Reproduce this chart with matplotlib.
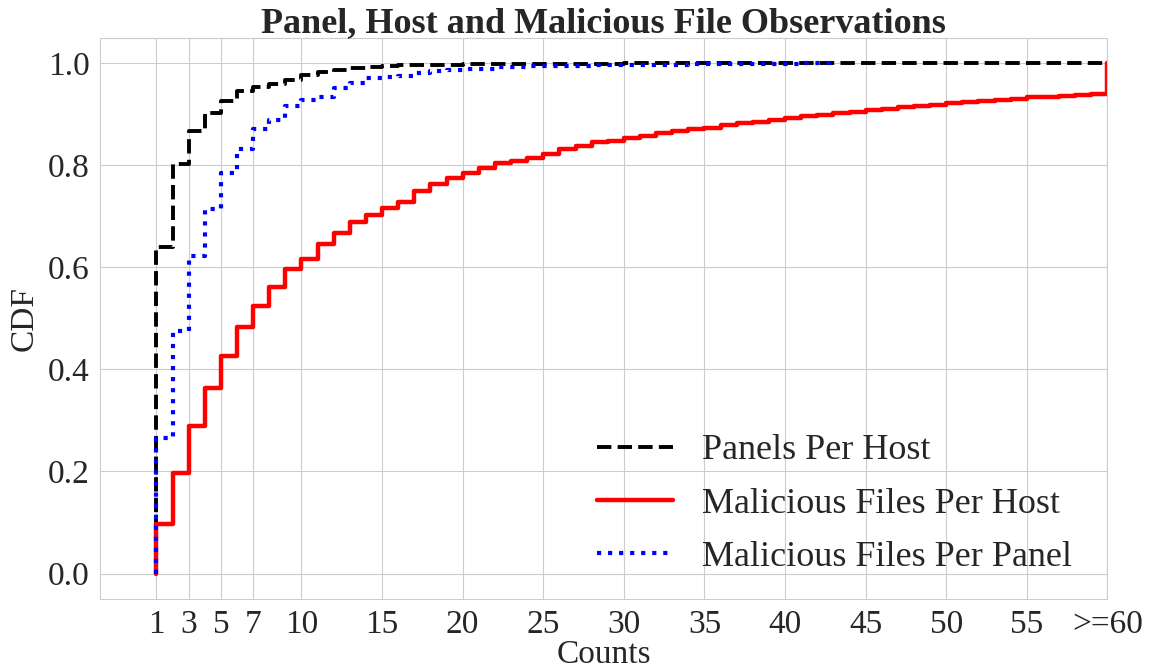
import matplotlib
matplotlib.use("Agg")
import matplotlib.pyplot as plt
import seaborn as sns

# counts 1..60 (60 means ">=60")
panels_counts = list(range(1, 61))
panels_per_host = [
    0.641, 0.803, 0.867, 0.903, 0.926, 0.945, 0.953, 0.960, 0.968, 0.978,
    0.984, 0.988, 0.991, 0.993, 0.995, 0.996, 0.996, 0.997, 0.997, 0.998,
    0.998, 0.998, 0.998, 0.998, 0.999, 0.999, 0.999, 0.999, 0.999, 1.0,
    1.0, 1.0, 1.0, 1.0, 1.0, 1.0, 1.0, 1.0, 1.0, 1.0,
    1.0, 1.0, 1.0, 1.0, 1.0, 1.0, 1.0, 1.0, 1.0, 1.0,
    1.0, 1.0, 1.0, 1.0, 1.0, 1.0, 1.0, 1.0, 1.0, 1.0,
]

files_host_counts = list(range(1, 61))
files_per_host = [
    0.097, 0.197, 0.289, 0.364, 0.427, 0.483, 0.525, 0.562, 0.596, 0.617,
    0.646, 0.668, 0.689, 0.702, 0.716, 0.729, 0.750, 0.764, 0.775, 0.785,
    0.794, 0.804, 0.809, 0.815, 0.822, 0.833, 0.838, 0.845, 0.848, 0.853,
    0.857, 0.863, 0.867, 0.871, 0.874, 0.879, 0.883, 0.886, 0.890, 0.893,
    0.896, 0.898, 0.902, 0.905, 0.908, 0.911, 0.914, 0.916, 0.919, 0.922,
    0.925, 0.927, 0.929, 0.931, 0.934, 0.935, 0.937, 0.938, 0.940, 1.0,
]

files_panel_counts = list(range(1, 44))
files_per_panel = [
    0.266, 0.475, 0.622, 0.714, 0.785, 0.833, 0.871, 0.890, 0.916, 0.928,
    0.935, 0.952, 0.962, 0.971, 0.973, 0.976, 0.982, 0.986, 0.988, 0.990,
    0.990, 0.992, 0.993, 0.994, 0.994, 0.995, 0.995, 0.996, 0.996, 0.996,
    0.997, 0.997, 0.997, 0.998, 0.998, 0.998, 0.999, 0.999, 0.999, 0.999,
    1.0, 1.0, 1.0,
]

xticks = [1, 3, 5, 7, 10, 15, 20, 25, 30, 35, 40, 45, 50, 55, 60]
xtick_labels = ["1", "3", "5", "7", "10", "15", "20", "25", "30", "35",
                "40", "45", "50", "55", ">=60"]

sns.set_style("whitegrid")
plt.rcParams["font.family"] = ["Liberation Serif", "DejaVu Serif"]

fig = plt.figure(figsize=(11.56, 6.72), dpi=100)
ax = fig.add_axes([0.0865, 0.1086, 0.8715, 0.835])

series = [
    (panels_counts, panels_per_host, "Panels Per Host", "black", "--", 2.8),
    (files_host_counts, files_per_host, "Malicious Files Per Host", "red", "-", 3.2),
    (files_panel_counts, files_per_panel, "Malicious Files Per Panel", "blue", ":", 3.0),
]
for xs, ys, label, color, ls, lw in series:
    ax.step([xs[0]] + xs, [0.0] + ys, where="post", color=color,
            linestyle=ls, linewidth=lw, label=label)

ax.set_xlim(-2.5, 60)
ax.set_ylim(-0.05, 1.05)
ax.set_xticks(xticks)
ax.set_xticklabels(xtick_labels)
ax.set_yticks([0.0, 0.2, 0.4, 0.6, 0.8, 1.0])
ax.tick_params(labelsize=24, pad=4)
ax.set_xlabel("Counts", fontsize=24, labelpad=0)
ax.set_ylabel("CDF", fontsize=24, labelpad=6)
ax.set_title("Panel, Host and Malicious File Observations", fontsize=26,
             fontweight="bold", pad=4)
ax.legend(loc="lower right", fontsize=26, frameon=False, handlelength=2.1,
          handletextpad=0.8, labelspacing=0.55, borderaxespad=0.3,
          bbox_to_anchor=(0.99, 0.0))

fig.savefig("out.png", dpi=100)
plt.close(fig)
